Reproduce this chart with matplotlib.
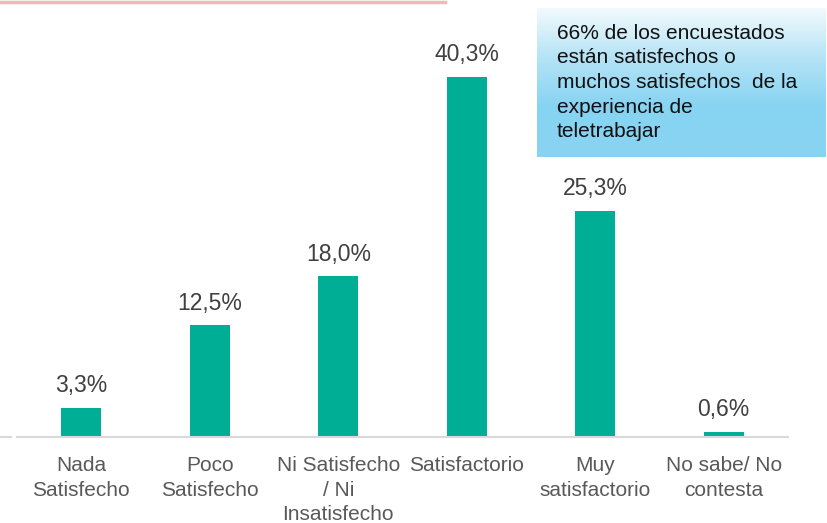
import numpy as np
import matplotlib
matplotlib.use("Agg")
import matplotlib.pyplot as plt
from matplotlib.lines import Line2D
from matplotlib.colors import LinearSegmentedColormap

plt.rcParams['font.family'] = ['Liberation Sans', 'DejaVu Sans']

# === 資料 ===
categories = ["Nada\nSatisfecho", "Poco\nSatisfecho", "Ni Satisfecho\n/ Ni\nInsatisfecho",
              "Satisfactorio", "Muy\nsatisfactorio", "No sabe/ No\ncontesta"]
values = [3.3, 12.5, 18.0, 40.3, 25.3, 0.6]
value_labels = ["3,3%", "12,5%", "18,0%", "40,3%", "25,3%", "0,6%"]
note_text = ("66% de los encuestados\nestán satisfechos o\n"
             "muchos satisfechos  de la\nexperiencia de\nteletrabajar")

W, H = 827, 523
fig = plt.figure(figsize=(W / 100, H / 100), dpi=100)

# === 主圖 ===
ax = fig.add_axes([17 / W, (H - 437) / H, 771 / W, 437 / H])
x = np.arange(len(categories))
ax.bar(x, values, width=0.31, color="#00AE96", zorder=2)
for xi, v, lab in zip(x, values, value_labels):
    ax.annotate(lab, (xi, v), xytext=(0, 7.5), textcoords="offset points",
                ha="center", va="bottom", fontsize=16.5, color="#404040")

ax.set_xlim(-0.5, len(categories) - 0.5)
ax.set_ylim(0, 48.9)
ax.set_xticks(x)
ax.set_xticklabels(categories, fontsize=15, color="#595959", linespacing=1.35)
ax.tick_params(axis="x", length=0, pad=14)
ax.set_yticks([])
for side in ["left", "right", "top"]:
    ax.spines[side].set_visible(False)
ax.spines["bottom"].set_color("#D9D9D9")
ax.spines["bottom"].set_linewidth(1.5)

# 左邊截斷的軸線 & 上方粉紅線
fig.add_artist(Line2D([0, 11 / W], [(H - 437) / H] * 2, color="#D9D9D9", lw=1.5))
fig.add_artist(Line2D([0, 445 / W], [1 - 1.5 / H] * 2, color="#F4B6B6", lw=2.5))

# === 說明方塊 (漸層) ===
box_ax = fig.add_axes([537 / W, (H - 157) / H, 288 / W, 149 / H])
cmap = LinearSegmentedColormap.from_list("note", ["#F2FAFD", "#B5E3F6", "#86D3F2", "#8AD4F2"])
grad = np.linspace(0, 1, 256).reshape(-1, 1)
box_ax.imshow(grad, aspect="auto", cmap=cmap, extent=[0, 1, 0, 1], origin="upper")
box_ax.set_axis_off()
box_ax.text(20 / 288, 0.5, note_text, transform=box_ax.transAxes, ha="left", va="center",
            fontsize=15, color="#111111", linespacing=1.38)

plt.savefig("out.png", dpi=100)
plt.close()
